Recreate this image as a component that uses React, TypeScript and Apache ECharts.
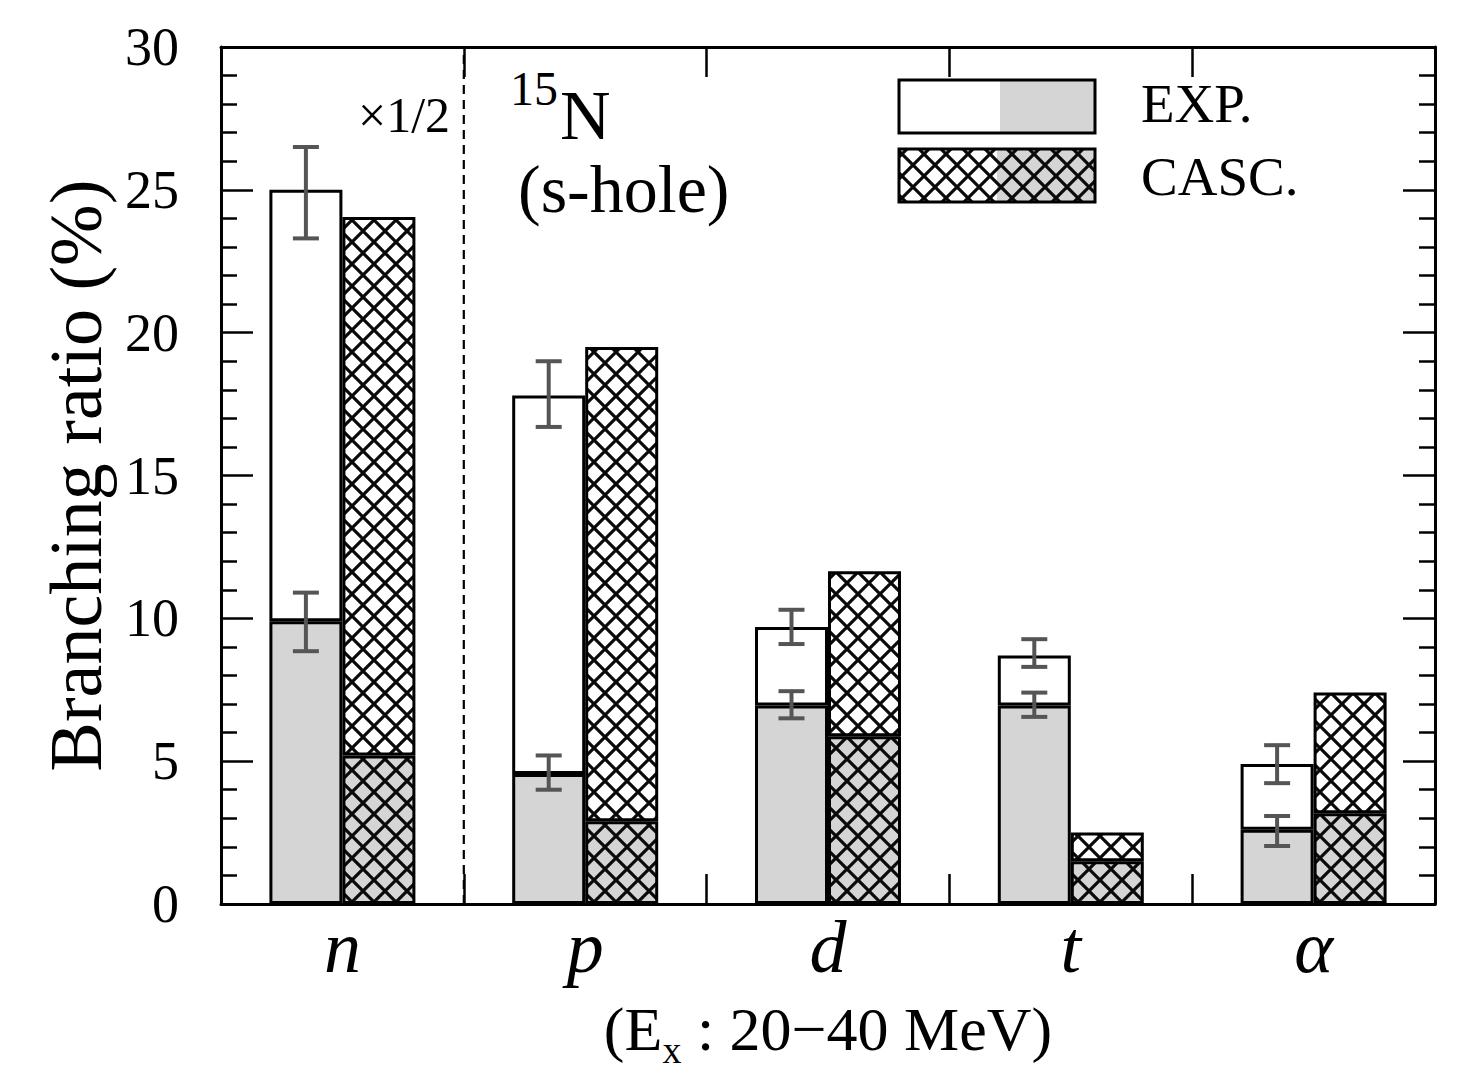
import React, { useEffect, useRef } from "react";
import * as echarts from "echarts";

// ---- data ----
const categories = ["n", "p", "d", "t", "α"];
const expTotal = [25.0, 17.8, 9.7, 8.7, 4.9];
const expLower = [9.9, 4.55, 6.95, 6.95, 2.6];
const cascTotal = [24.05, 19.5, 11.65, 2.5, 7.4];
const cascLower = [5.2, 2.9, 5.87, 1.5, 3.18];
const expTotalErrLow = [23.3, 16.7, 9.1, 8.3, 4.23];
const expTotalErrHigh = [26.5, 19.0, 10.3, 9.27, 5.56];
const expLowerErrLow = [8.85, 4.0, 6.5, 6.55, 2.03];
const expLowerErrHigh = [10.9, 5.2, 7.45, 7.4, 3.08];
const dividerAfter = [0]; // dashed line after category index 0
const yMin = 0;
const yMax = 30;
const yInterval = 5;

const SERIF = '"Liberation Serif", "Times New Roman", serif';
const GRAY = "#d5d5d5";
const BAR_W = 73;

function hatch(bg: string) {
  const s = 22;
  const svg =
    `<svg xmlns='http://www.w3.org/2000/svg' width='${s}' height='${s}'>` +
    `<rect width='${s}' height='${s}' fill='${bg}'/>` +
    `<path d='M0,0 L${s},${s} M${s},0 L0,${s}' stroke='#0a0a0a' stroke-width='3.2' fill='none'/>` +
    `</svg>`;
  return {
    image: "data:image/svg+xml;charset=utf-8," + encodeURIComponent(svg),
    repeat: "repeat",
    imageWidth: s,
    imageHeight: s,
  } as any;
}

export default function App() {
  const ref = useRef<HTMLDivElement>(null);

  useEffect(() => {
    if (!ref.current) return;
    const chart = echarts.init(ref.current, undefined, { renderer: "svg" });
    const hatchWhite = hatch("#ffffff");
    const hatchGray = hatch(GRAY);

    const expUpper = expTotal.map((t, i) => +(t - expLower[i]).toFixed(3));
    const cascUpper = cascTotal.map((t, i) => +(t - cascLower[i]).toFixed(3));

    const errData: number[][] = [];
    categories.forEach((_, i) => {
      errData.push([i, expTotalErrLow[i], expTotalErrHigh[i]]);
      errData.push([i, expLowerErrLow[i], expLowerErrHigh[i]]);
    });

    const barBorder = { borderColor: "#000", borderWidth: 3 };
    const xTick = { show: true, inside: true, length: 30, lineStyle: { color: "#000", width: 2.5 } };
    const yTick = { show: true, inside: true, length: 32, lineStyle: { color: "#000", width: 2.5 } };
    const yMinor = { show: true, splitNumber: 5, length: 16, lineStyle: { color: "#000", width: 2.5 } };
    const axLine = { show: true, onZero: false, lineStyle: { color: "#000", width: 3 } };

    const option: any = {
      animation: false,
      backgroundColor: "#fff",
      grid: { left: 221, right: 22, top: 47, bottom: 169, containLabel: false },
      xAxis: [
        {
          type: "category",
          position: "bottom",
          data: categories,
          axisLine: axLine,
          axisTick: xTick,
          axisLabel: {
            fontFamily: SERIF,
            fontStyle: "italic",
            fontSize: 74,
            color: "#000",
            margin: 6,
          },
          name: "{a|(E}{s|x}{a| : 20−40 MeV)}",
          nameLocation: "middle",
          nameGap: 85,
          nameTextStyle: {
            color: "#000",
            fontFamily: SERIF,
            fontSize: 62,
            rich: {
              a: { fontFamily: SERIF, fontSize: 62, color: "#000", lineHeight: 80 },
              s: { fontFamily: SERIF, fontSize: 38, color: "#000", lineHeight: 22, verticalAlign: "bottom" },
            },
          },
        },
        {
          type: "category",
          position: "top",
          data: categories,
          axisLine: axLine,
          axisTick: xTick,
          axisLabel: { show: false },
        },
      ],
      yAxis: [
        {
          type: "value",
          position: "left",
          min: yMin,
          max: yMax,
          interval: yInterval,
          axisLine: axLine,
          axisTick: yTick,
          minorTick: yMinor,
          splitLine: { show: false },
          axisLabel: { fontFamily: SERIF, fontSize: 54, color: "#000", margin: 42 },
          name: "Branching ratio (%)",
          nameLocation: "middle",
          nameGap: 108,
          nameTextStyle: { fontFamily: SERIF, fontSize: 74, color: "#000" },
        },
        {
          type: "value",
          position: "right",
          min: yMin,
          max: yMax,
          interval: yInterval,
          axisLine: axLine,
          axisTick: yTick,
          minorTick: yMinor,
          splitLine: { show: false },
          axisLabel: { show: false },
        },
      ],
      series: [
        {
          name: "EXP lower",
          type: "bar",
          stack: "exp",
          barWidth: BAR_W,
          barGap: "0%",
          data: expLower,
          itemStyle: { color: GRAY, ...barBorder },
          z: 2,
        },
        {
          name: "EXP",
          type: "bar",
          stack: "exp",
          barWidth: BAR_W,
          barGap: "0%",
          data: expUpper,
          itemStyle: { color: "#fff", ...barBorder },
          z: 2,
        },
        {
          name: "CASC lower",
          type: "bar",
          stack: "casc",
          barWidth: BAR_W,
          barGap: "0%",
          data: cascLower,
          itemStyle: { color: hatchGray, ...barBorder },
          z: 2,
        },
        {
          name: "CASC",
          type: "bar",
          stack: "casc",
          barWidth: BAR_W,
          barGap: "0%",
          data: cascUpper,
          itemStyle: { color: hatchWhite, ...barBorder },
          z: 2,
        },
        {
          name: "errors",
          type: "custom",
          data: errData,
          encode: { x: 0, y: [1, 2] },
          z: 10,
          renderItem: (_params: any, api: any) => {
            const i = api.value(0);
            const lo = api.coord([i, api.value(1)]);
            const hi = api.coord([i, api.value(2)]);
            const x = lo[0] - BAR_W / 2;
            const cap = 13;
            const st = { stroke: "#555", lineWidth: 4 };
            return {
              type: "group",
              children: [
                { type: "line", shape: { x1: x, y1: lo[1], x2: x, y2: hi[1] }, style: st },
                { type: "line", shape: { x1: x - cap, y1: lo[1], x2: x + cap, y2: lo[1] }, style: st },
                { type: "line", shape: { x1: x - cap, y1: hi[1], x2: x + cap, y2: hi[1] }, style: st },
              ],
            };
          },
        },
        {
          name: "divider",
          type: "custom",
          data: dividerAfter.map((d) => [d]),
          encode: { x: 0 },
          z: 9,
          renderItem: (_params: any, api: any) => {
            const i = api.value(0);
            const band = api.size([1, 0])[0];
            const p0 = api.coord([i, yMin]);
            const p1 = api.coord([i, yMax]);
            const x = p0[0] + band / 2;
            return {
              type: "line",
              shape: { x1: x, y1: p0[1], x2: x, y2: p1[1] },
              style: { stroke: "#000", lineWidth: 2.2, lineDash: [9, 6] },
            };
          },
        },
      ],
      graphic: [
        {
          type: "text",
          left: 358,
          top: 90,
          style: { text: "×1/2", font: `50px ${SERIF}`, fill: "#000" },
        },
        {
          type: "text",
          left: 510,
          top: 64,
          style: { text: "15", font: `48px ${SERIF}`, fill: "#000", lineHeight: 46 },
        },
        {
          type: "text",
          left: 560,
          top: 80,
          style: { text: "N", font: `70px ${SERIF}`, fill: "#000", lineHeight: 62 },
        },
        {
          type: "text",
          left: 518,
          top: 154,
          style: { text: "(s-hole)", font: `68px ${SERIF}`, fill: "#000", lineHeight: 70 },
        },
        // legend boxes
        { type: "rect", shape: { x: 899, y: 80, width: 101, height: 53 }, style: { fill: "#fff" }, z: 20 },
        { type: "rect", shape: { x: 1000, y: 80, width: 95, height: 53 }, style: { fill: GRAY }, z: 20 },
        {
          type: "rect",
          shape: { x: 899, y: 80, width: 196, height: 53 },
          style: { fill: "none", stroke: "#000", lineWidth: 3 },
          z: 21,
        },
        { type: "rect", shape: { x: 899, y: 149, width: 98, height: 53 }, style: { fill: hatchWhite }, z: 20 },
        { type: "rect", shape: { x: 997, y: 149, width: 98, height: 53 }, style: { fill: hatchGray }, z: 20 },
        {
          type: "rect",
          shape: { x: 899, y: 149, width: 196, height: 53 },
          style: { fill: "none", stroke: "#000", lineWidth: 3 },
          z: 21,
        },
        {
          type: "text",
          left: 1141,
          top: 76,
          style: { text: "EXP.", font: `55px ${SERIF}`, fill: "#000" },
        },
        {
          type: "text",
          left: 1141,
          top: 149,
          style: { text: "CASC.", font: `55px ${SERIF}`, fill: "#000" },
        },
      ],
    };

    chart.setOption(option);
    return () => chart.dispose();
  }, []);

  return (
    <div
      ref={ref}
      style={{ position: "fixed", left: 0, top: 0, width: 1457, height: 1074, background: "#fff" }}
    />
  );
}
